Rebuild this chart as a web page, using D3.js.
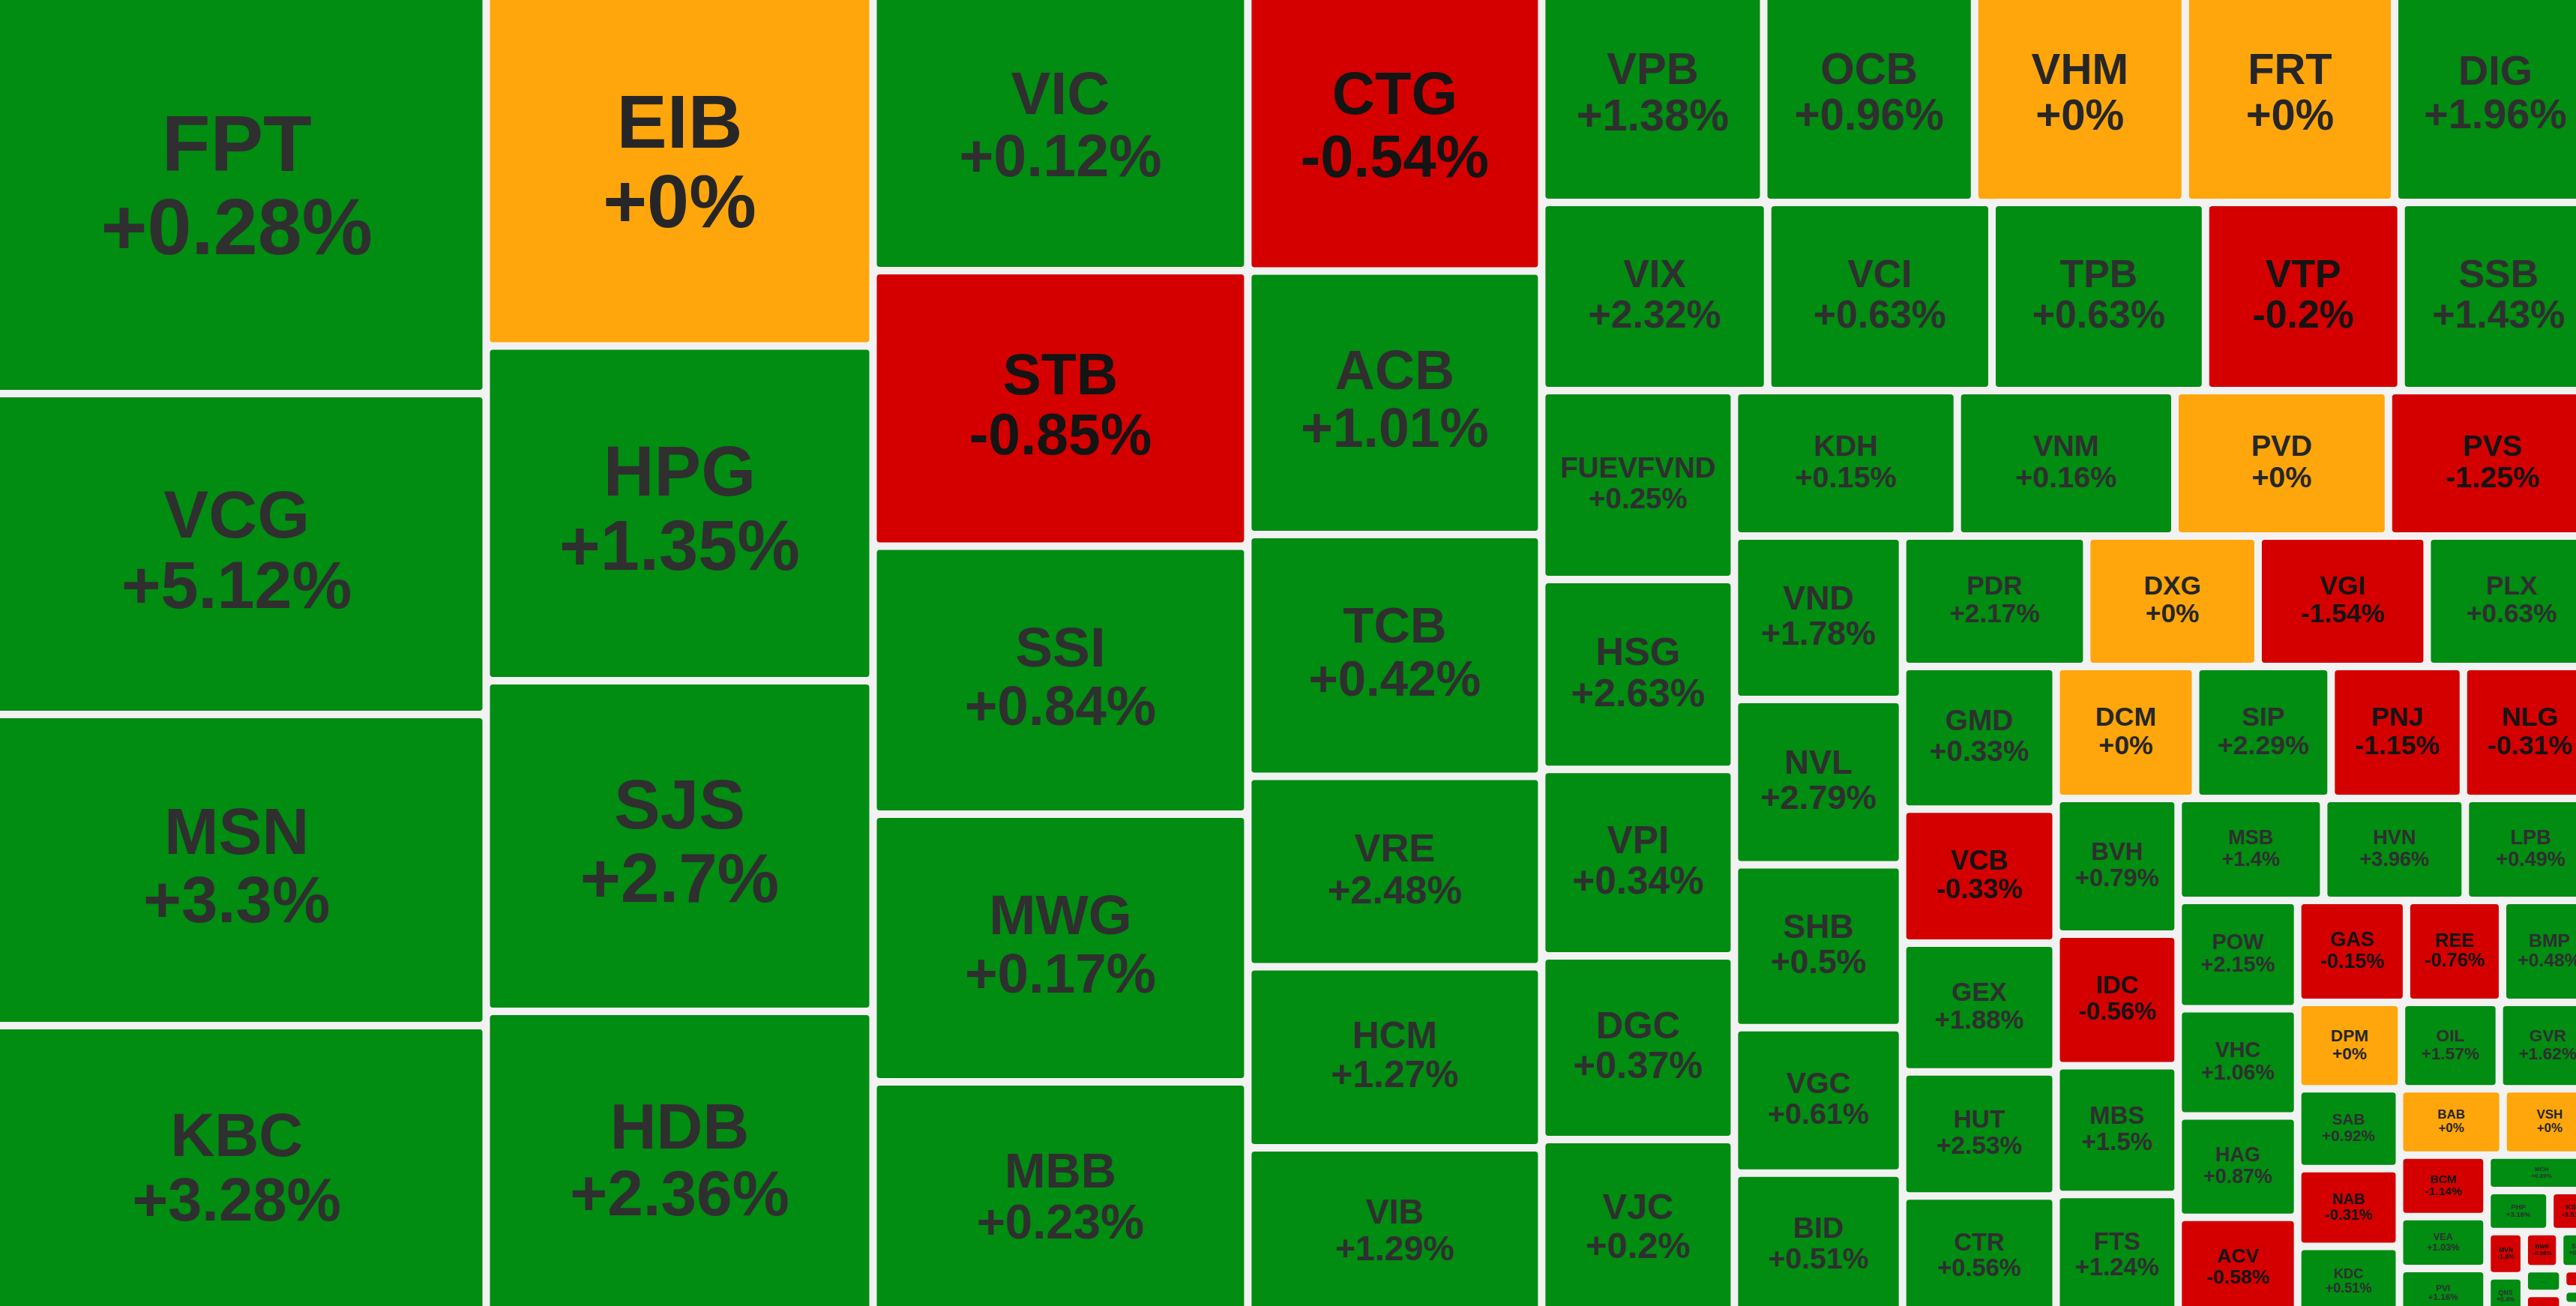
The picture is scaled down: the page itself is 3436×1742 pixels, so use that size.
<!DOCTYPE html>
<html lang="vi">
<head>
<meta charset="utf-8">
<title>Bản đồ nhiệt cổ phiếu</title>
<script src="https://cdn.jsdelivr.net/npm/d3@7/dist/d3.min.js"></script>
<style>
  html, body { margin: 0; padding: 0; background: #f2f2f2; overflow: hidden; }
  svg { display: block; }
</style>
</head>
<body>
<svg id="chart" width="3436" height="1742"></svg>
<script>
// ---- data ----
const symbols = ["FPT","VCG","MSN","KBC","EIB","HPG","SJS","HDB","VIC","STB","SSI","MWG","MBB",
  "CTG","ACB","TCB","VRE","HCM","VIB","VPB","OCB","VHM","FRT","DIG","VIX","VCI","TPB","VTP","SSB",
  "FUEVFVND","HSG","VPI","DGC","VJC","KDH","VNM","PVD","PVS","VND","NVL","SHB","VGC","BID",
  "PDR","DXG","VGI","PLX","GMD","VCB","GEX","HUT","CTR","DCM","SIP","PNJ","NLG","BVH","IDC",
  "MBS","FTS","MSB","HVN","LPB","POW","VHC","HAG","ACV","GAS","REE","BMP","DPM","OIL","GVR",
  "SAB","NAB","KDC","BAB","VSH","BCM","VEA","PVI","MCH","PHP","KSB","MVN","QNS","BWE","SBT",
  "TCH","HHV","VOS","TLG","CMG"];

// traded value (relative units)
const values = [360.70,284.83,276.18,258.88,246.96,230.34,227.56,210.53,188.96,183.76,178.66,178.46,156.97,
  148.41,137.75,126.38,99.65,94.63,88.59,84.98,80.73,80.65,80.13,77.20,75.63,75.12,71.48,65.49,65.34,
  64.76,65.12,63.89,62.97,60.91,57.68,56.32,55.25,53.78,48.90,49.46,48.72,43.51,43.13,
  42.75,39.76,39.24,39.25,38.97,36.60,35.16,33.91,33.12,32.74,31.82,31.06,31.19,29.45,28.59,
  27.97,26.65,26.40,25.69,23.76,23.03,22.81,21.55,21.23,19.75,17.42,17.00,15.96,15.03,14.90,
  14.48,14.08,12.83,12.23,11.00,9.59,8.08,7.59,6.89,4.59,3.38,2.93,2.75,2.35,2.42,
  1.69,1.63,1.20,1.00,0.69];

// price change, %
const changes = [0.28,5.12,3.3,3.28,0,1.35,2.7,2.36,0.12,-0.85,0.84,0.17,0.23,
  -0.54,1.01,0.42,2.48,1.27,1.29,1.38,0.96,0,0,1.96,2.32,0.63,0.63,-0.2,1.43,
  0.25,2.63,0.34,0.37,0.2,0.15,0.16,0,-1.25,1.78,2.79,0.5,0.61,0.51,
  2.17,0,-1.54,0.63,0.33,-0.33,1.88,2.53,0.56,0,2.29,-1.15,-0.31,0.79,-0.56,
  1.5,1.24,1.4,3.96,0.49,2.15,1.06,0.87,-0.58,-0.15,-0.76,0.48,0,1.57,1.62,
  0.92,-0.31,0.51,0,0,-1.14,1.03,1.16,0.89,3.16,-3.51,-1.8,0.4,-0.96,0.5,
  0.8,-1.2,-0.5,0.3,0.2];

// number of tiles in each successive row/strip of the squarified layout, as seen in the reference
const rowLengths = [4,4,5,6,5,5,5,4,5,4,5,4,4,3,4,3,3,3,2,3,1,2,2,2,2,1,2];

// ---- layout settings ----
const VIEW_W = 3436, VIEW_H = 1742;
const MAP_W = 3470, MAP_H = 1764, MAP_SHIFT = -12;   // the map is a little larger than the screen
const GAP = 10;
const FONT = '"Liberation Sans", Arial, Helvetica, sans-serif';

const fillColor = d3.scaleThreshold().domain([-1e-9, 1e-9]).range(["#d40000", "#ffa60c", "#018c12"]);
const inkColor  = d3.scaleThreshold().domain([-1e-9, 1e-9]).range(["#141414", "#262626", "#2f2f2f"]);
const fmt = v => (v >= 0 ? "+" : "") + v + "%";

// squarified-style tiling: rows along the shorter side, row lengths from rowLengths
function tileRows(parent, x0, y0, x1, y1) {
  const nodes = parent.children;
  let remaining = parent.value, i = 0, r = 0;
  while (i < nodes.length) {
    const n = rowLengths[r++] || (nodes.length - i);
    const row = { children: nodes.slice(i, i + n) };
    row.value = d3.sum(row.children, c => c.value);
    const dx = x1 - x0, dy = y1 - y0;
    if (dx < dy) {
      const y = y0 + dy * row.value / remaining;
      d3.treemapDice(row, x0, y0, x1, y);
      y0 = y;
    } else {
      const x = x0 + dx * row.value / remaining;
      d3.treemapSlice(row, x0, y0, x, y1);
      x0 = x;
    }
    remaining -= row.value;
    i += n;
  }
}

const root = d3.hierarchy({ children: symbols.map((s, i) => ({ symbol: s, value: values[i], change: changes[i] })) })
  .sum(d => d.children ? 0 : d.value);

d3.treemap().size([MAP_W, MAP_H]).paddingInner(GAP).tile(tileRows)(root);

const svg = d3.select("#chart");
svg.append("rect").attr("width", VIEW_W).attr("height", VIEW_H).attr("fill", "#f2f2f2");
const map = svg.append("g").attr("transform", `translate(${MAP_SHIFT},${MAP_SHIFT})`);

const cells = map.selectAll("g.cell").data(root.leaves()).join("g")
  .attr("class", "cell")
  .attr("transform", d => `translate(${d.x0},${d.y0})`);

cells.append("rect")
  .attr("width", d => Math.max(0, d.x1 - d.x0))
  .attr("height", d => Math.max(0, d.y1 - d.y0))
  .attr("rx", 4).attr("ry", 4)
  .attr("fill", d => fillColor(d.data.change));

cells.each(function (d) {
  const w = d.x1 - d.x0, h = d.y1 - d.y0;
  const g = d3.select(this);
  let fs = Math.min(Math.min(w, h) / 4.65, 106);
  const text = g.append("text")
    .attr("text-anchor", "middle")
    .attr("font-family", FONT)
    .attr("font-weight", "bold")
    .attr("fill", inkColor(d.data.change));
  if (fs >= 7) {
    text.attr("font-size", 100);
    const t1 = text.append("tspan").attr("x", w / 2).text(d.data.symbol);
    const t2 = text.append("tspan").attr("x", w / 2).text(fmt(d.data.change));
    const maxW = Math.max(t1.node().getComputedTextLength(), t2.node().getComputedTextLength());
    fs = Math.min(fs, 0.84 * w * 100 / maxW);
    text.attr("font-size", fs);
    t1.attr("y", h / 2 - 0.25 * fs);
    t2.attr("y", h / 2 + 0.8 * fs);
  } else if (w >= 25 && h >= 14) {
    text.attr("font-size", 9).attr("font-weight", "normal").attr("fill", "#333")
      .attr("x", w / 2).attr("y", h / 2 + 2).text("...");
  } else {
    text.remove();
  }
});
</script>
</body>
</html>
